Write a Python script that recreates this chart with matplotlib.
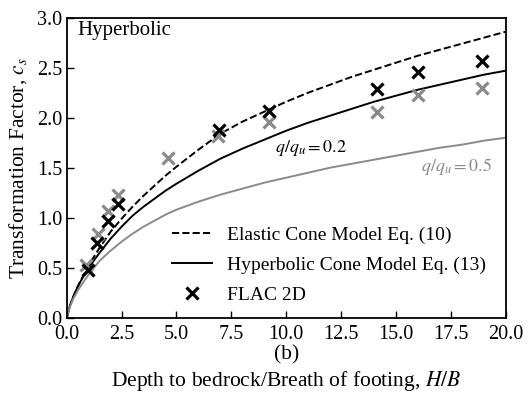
import numpy as np
import matplotlib
matplotlib.use("Agg")
import matplotlib.pyplot as plt

plt.rcParams["font.family"] = ["Liberation Serif", "DejaVu Serif"]
plt.rcParams["mathtext.fontset"] = "stix"

# curves
curve_x = [0, 0.15, 0.3, 0.5, 0.8, 1.1, 1.5, 2.0, 2.5, 3.0, 3.5, 4.0, 4.5, 5.0,
           6.0, 7.0, 8.0, 9.0, 10, 11, 12, 13, 14, 15, 16, 17, 18, 19, 20]
# elastic cone model (dashed)
elastic_y = [0, 0.12, 0.21, 0.31, 0.44, 0.56, 0.70, 0.86, 0.99, 1.11, 1.22, 1.32, 1.42, 1.51,
             1.68, 1.84, 1.96, 2.06, 2.16, 2.25, 2.33, 2.41, 2.48, 2.55, 2.62, 2.68, 2.74, 2.80, 2.86]
# hyperbolic cone model, q/qu = 0.2
hyp02_y = [0, 0.12, 0.21, 0.31, 0.43, 0.53, 0.65, 0.79, 0.91, 1.02, 1.11, 1.19, 1.27, 1.34,
           1.47, 1.59, 1.69, 1.78, 1.87, 1.95, 2.02, 2.09, 2.16, 2.22, 2.28, 2.33, 2.38, 2.43, 2.47]
# hyperbolic cone model, q/qu = 0.5
hyp05_y = [0, 0.11, 0.19, 0.27, 0.37, 0.46, 0.57, 0.67, 0.76, 0.84, 0.91, 0.97, 1.03, 1.08,
           1.16, 1.23, 1.29, 1.35, 1.40, 1.45, 1.50, 1.54, 1.58, 1.62, 1.66, 1.70, 1.73, 1.77, 1.80]

# FLAC 2D results
flac02_x = [0.95, 1.4, 1.87, 2.35, 6.95, 9.2, 14.15, 16.0, 18.9]
flac02_y = [0.48, 0.75, 0.97, 1.14, 1.88, 2.07, 2.29, 2.46, 2.57]
flac05_x = [0.9, 1.42, 1.88, 2.35, 4.6, 6.9, 9.2, 14.15, 16.0, 18.9]
flac05_y = [0.53, 0.84, 1.07, 1.23, 1.60, 1.82, 1.96, 2.06, 2.23, 2.30]

grey = "#8a8a8a"

fig = plt.figure(figsize=(5.32, 3.99), dpi=100)
ax = fig.add_axes([0.1254, 0.2038, 0.8252, 0.7518])

ax.plot(curve_x, elastic_y, "k--", lw=1.4, label="Elastic Cone Model Eq. (10)")
ax.plot(curve_x, hyp02_y, "k-", lw=1.4, label="Hyperbolic Cone Model Eq. (13)")
ax.plot(curve_x, hyp05_y, "-", color=grey, lw=1.4)
ax.plot(flac05_x, flac05_y, "x", color=grey, ms=9, mew=2.3)
ax.plot(flac02_x, flac02_y, "kx", ms=9, mew=2.3, label="FLAC 2D")

ax.text(0.5, 2.87, "Hyperbolic", fontsize=15, va="center")
ax.text(9.5, 1.70, r"$q/q_u = 0.2$", fontsize=13, va="center")
ax.text(16.15, 1.51, r"$q/q_u = 0.5$", fontsize=13, va="center", color=grey)

ax.set_xlim(0, 20)
ax.set_ylim(0, 3)
ax.set_xticks(np.arange(0, 20.1, 2.5))
ax.set_yticks(np.arange(0, 3.01, 0.5))
ax.tick_params(direction="in", length=5, width=1, labelsize=14.5)
ax.tick_params(axis="x", pad=5)
ax.tick_params(axis="y", pad=3)
for s in ax.spines.values():
    s.set_linewidth(1.3)

ax.set_xlabel("(b)\nDepth to bedrock/Breath of footing, $H/B$", fontsize=15.5,
              linespacing=1.25, labelpad=1)
ax.set_ylabel("Transformation Factor, $c_s$", fontsize=15.5, labelpad=6)

ax.legend(loc="upper left", frameon=False, fontsize=14, handlelength=2.05,
          handletextpad=0.8, bbox_to_anchor=(0.222, 0.33), labelspacing=0.62,
          borderaxespad=0)

fig.savefig("out.png", dpi=100)
